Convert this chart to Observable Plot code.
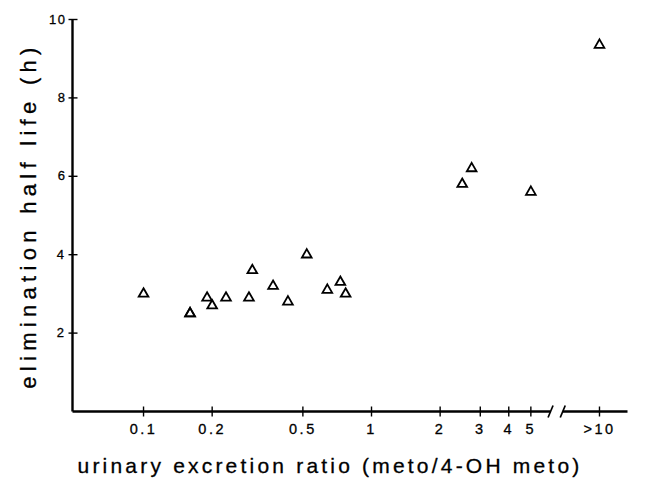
<!DOCTYPE html>
<html>
<head>
<meta charset="utf-8">
<script src="https://cdn.jsdelivr.net/npm/d3@7"></script>
<script src="https://cdn.jsdelivr.net/npm/@observablehq/plot@0.6"></script>
<style>
  html, body { margin: 0; padding: 0; background: #fff; }
  svg { font-family: "Liberation Sans", Arial, Helvetica, sans-serif; }
</style>
</head>
<body>
<div id="chart"></div>
<script>
// urinary excretion ratio (meto/4-OH meto); ">10" is placed at 10
const ratio = [0.1, 0.16, 0.16, 0.19, 0.2, 0.23, 0.29, 0.30, 0.37, 0.43, 0.52, 0.64, 0.73, 0.77, 2.5, 2.75, 5.0, 10];
// elimination half life (h)
const halfLife = [3.0, 2.5, 2.5, 2.9, 2.7, 2.9, 2.9, 3.6, 3.2, 2.8, 4.0, 3.1, 3.3, 3.0, 5.8, 6.2, 5.6, 9.35];
const xTicks = [0.1, 0.2, 0.5, 1, 2, 3, 4, 5, 10];
const xTickLabels = ["0.1", "0.2", "0.5", "1", "2", "3", "4", "5", ">10"];
const yTicks = [2, 4, 6, 8, 10];
const xTitle = "urinary excretion ratio (meto/4-OH meto)";
const yTitle = "elimination half life (h)";

const points = ratio.map((r, i) => ({ratio: r, halfLife: halfLife[i]}));
const xTickData = xTicks.map((t, i) => ({x: t, label: xTickLabels[i]}));

const W = 649, H = 480, mL = 72, mR = 22, mT = 19, mB = 69;
const xMin = 0.0488, xMax = 13.27;
const pxPerDecade = (W - mL - mR) / Math.log10(xMax / xMin);
const pxPerUnit = (H - mT - mB) / 10;
const xf = px => Math.pow(10, px / pxPerDecade); // multiplicative offset for px on log axis
const yu = px => px / pxPerUnit;

const breakLeft = 6.1, breakRight = 6.9;
const axisSegments = [{x1: xMin, x2: breakLeft}, {x1: breakRight, x2: xMax}];
const slashes = [{x1: breakLeft / xf(2.5), x2: breakLeft * xf(2.5)}, {x1: breakRight / xf(2.5), x2: breakRight * xf(2.5)}];

const chart = Plot.plot({
  width: W,
  height: H,
  marginLeft: mL,
  marginRight: mR,
  marginTop: mT,
  marginBottom: mB,
  x: {type: "log", domain: [xMin, xMax], axis: null},
  y: {domain: [0, 10], axis: null},
  marks: [
    // y axis line
    Plot.link([0], {x1: xMin, x2: xMin, y1: 0, y2: 10, stroke: "#000", strokeWidth: 2.4}),
    // x axis line with break
    Plot.link(axisSegments, {x1: "x1", x2: "x2", y1: 0, y2: 0, stroke: "#000", strokeWidth: 2.4}),
    Plot.link(slashes, {x1: "x1", x2: "x2", y1: -yu(6), y2: yu(6), stroke: "#000", strokeWidth: 1.7}),
    // y ticks crossing the axis
    Plot.link(yTicks, {x1: xMin / xf(4), x2: xMin * xf(5), y1: d => d, y2: d => d, stroke: "#000", strokeWidth: 1.4}),
    Plot.text(yTicks, {x: xMin, y: d => d, text: d => String(d), dx: -6, textAnchor: "end", fontSize: 13, fill: "#000", stroke: "#000", strokeWidth: 0.3}),
    // x ticks crossing the axis
    Plot.link(xTickData, {x1: "x", x2: "x", y1: -yu(5), y2: yu(5), stroke: "#000", strokeWidth: 1.4}),
    Plot.text(xTickData, {x: "x", y: 0, text: "label", dy: 17.5, fontSize: 14.5, fill: "#000", stroke: "#000", strokeWidth: 0.3}),
    // titles
    Plot.text([xTitle], {frameAnchor: "bottom", textAnchor: "middle", dy: 61, dx: -20, fontSize: 21, fill: "#000", stroke: "#000", strokeWidth: 0.3}),
    Plot.text([yTitle], {frameAnchor: "left", textAnchor: "middle", rotate: -90, dx: -44, dy: 0, fontSize: 22, fill: "#000", stroke: "#000", strokeWidth: 0.3}),
    // data
    Plot.dot(points, {x: "ratio", y: "halfLife", symbol: "triangle", r: 3.6, stroke: "#000", strokeWidth: 1.8, fill: "none"})
  ]
});

const svg = d3.select(chart);
svg.selectAll("text").each(function() {
  const t = this.textContent;
  if (t === xTitle) d3.select(this).attr("letter-spacing", "3.2px");
  else if (t === yTitle) d3.select(this).attr("letter-spacing", "5.3px");
  else if (xTickLabels.includes(t)) d3.select(this).attr("letter-spacing", "2.5px");
  else d3.select(this).attr("letter-spacing", "1.5px");
});
document.getElementById("chart").appendChild(chart);
</script>
</body>
</html>
